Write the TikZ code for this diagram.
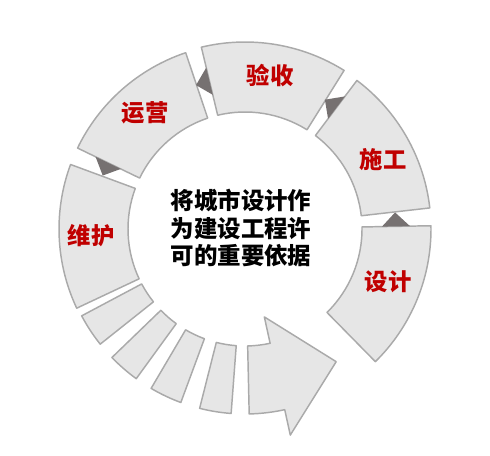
\documentclass[tikz,border=0pt]{standalone}
\usepackage{fontspec}
\newfontfamily\cjk{Noto Sans CJK SC}

\tikzset{every picture/.style={line width=0.75pt}}
\tikzset{
  ringpart/.style={draw={rgb, 255:red, 170; green, 170; blue, 170 }, line width=1.1pt, line join=round, fill={rgb, 255:red, 230; green, 230; blue, 230 }},
  tipmark/.style={draw opacity=0, fill={rgb, 255:red, 118; green, 113; blue, 113 }},
  steplabel/.style={text={rgb, 255:red, 192; green, 0; blue, 0 }, font=\cjk\bfseries\fontsize{17.5}{20}\selectfont},
  basislabel/.style={align=center, font=\cjk\bfseries\fontsize{17.6}{20.6}\selectfont}
}

\begin{document}
\begin{tikzpicture}[x=0.75pt,y=0.75pt,yscale=-1,xscale=1]
	\useasboundingbox (0,0) rectangle (490,456);

	\begin{scope}[shift={(245,229)}]
	%Shape: Ring part [id:sheji] 
	\draw  [ringpart] (45.5:117) arc [start angle=45.5, end angle=-1, radius=117] -- (-1:186) arc [start angle=-1, end angle=45.5, radius=186] -- cycle ;
	%Shape: Ring part [id:shigong] 
	\draw  [ringpart] (-6.5:117) arc [start angle=-6.5, end angle=-53, radius=117] -- (-53:186) arc [start angle=-53, end angle=-6.5, radius=186] -- cycle ;
	%Shape: Ring part [id:yanshou] 
	\draw  [ringpart] (-58:117) arc [start angle=-58, end angle=-103.5, radius=117] -- (-103.5:187) arc [start angle=-103.5, end angle=-58, radius=187] -- cycle ;
	%Shape: Ring part [id:yunying] 
	\draw  [ringpart] (-108.6:117) arc [start angle=-108.6, end angle=-154.2, radius=117] -- (-154.2:186) arc [start angle=-154.2, end angle=-108.6, radius=186] -- cycle ;
	%Shape: Ring part [id:weihu] 
	\draw  [ringpart] (-159.7:117) arc [start angle=-159.7, end angle=-205.2, radius=117] -- (-205.2:186) arc [start angle=-205.2, end angle=-159.7, radius=186] -- cycle ;
	%Shape: Ring part small [id:small1] 
	\draw  [ringpart] (-208:117) arc [start angle=-208, end angle=-218.5, radius=117] -- (-218.5:185) arc [start angle=-218.5, end angle=-208, radius=185] -- cycle ;
	%Shape: Ring part small [id:small2] 
	\draw  [ringpart] (-224:117) arc [start angle=-224, end angle=-234, radius=117] -- (-234:185) arc [start angle=-234, end angle=-224, radius=185] -- cycle ;
	%Shape: Ring part small [id:small3] 
	\draw  [ringpart] (-239.5:117) arc [start angle=-239.5, end angle=-249.7, radius=117] -- (-249.7:185) arc [start angle=-249.7, end angle=-239.5, radius=185] -- cycle ;
	%Shape: Ring part small [id:small4] 
	\draw  [ringpart] (-255.8:117) arc [start angle=-255.8, end angle=-265.7, radius=117] -- (-265.7:185) arc [start angle=-265.7, end angle=-255.8, radius=185] -- cycle ;
	%Shape: Ring arrow [id:bigarrow] 
	\draw  [ringpart] (-271.3:117) arc [start angle=-271.3, end angle=-282.4, radius=117] -- (-282.4:90) -- (-304.5:161) -- (-282.4:211) -- (-282.4:185) arc [start angle=-282.4, end angle=-271.3, radius=185] -- cycle ;

	%Shape: Triangle [id:tip1] 
	\draw  [tipmark] (-1:137) -- (-1:165) -- (-6.3:151) -- cycle ;
	%Shape: Triangle [id:tip2] 
	\draw  [tipmark] (-53:138) -- (-53:166) -- (-58.3:152) -- cycle ;
	%Shape: Triangle [id:tip3] 
	\draw  [tipmark] (-103.5:138) -- (-103.5:166) -- (-108.8:152) -- cycle ;
	%Shape: Triangle [id:tip4] 
	\draw  [tipmark] (-154.2:138) -- (-154.2:166) -- (-159.4:152) -- cycle ;
	\end{scope}

	% Text Node
	\draw (388,282) node [steplabel] (sheji) {设计};
	% Text Node
	\draw (383,160) node [steplabel] (shigong) {施工};
	% Text Node
	\draw (270,76) node [steplabel] (yanshou) {验收};
	% Text Node
	\draw (145,113) node [steplabel] (yunying) {运营};
	% Text Node
	\draw (91,236) node [steplabel] (weihu) {维护};
	% Text Node
	\draw (241,228) node [basislabel] (basis) {将城市设计作\\为建设工程许\\可的重要依据};

\end{tikzpicture}
\end{document}
